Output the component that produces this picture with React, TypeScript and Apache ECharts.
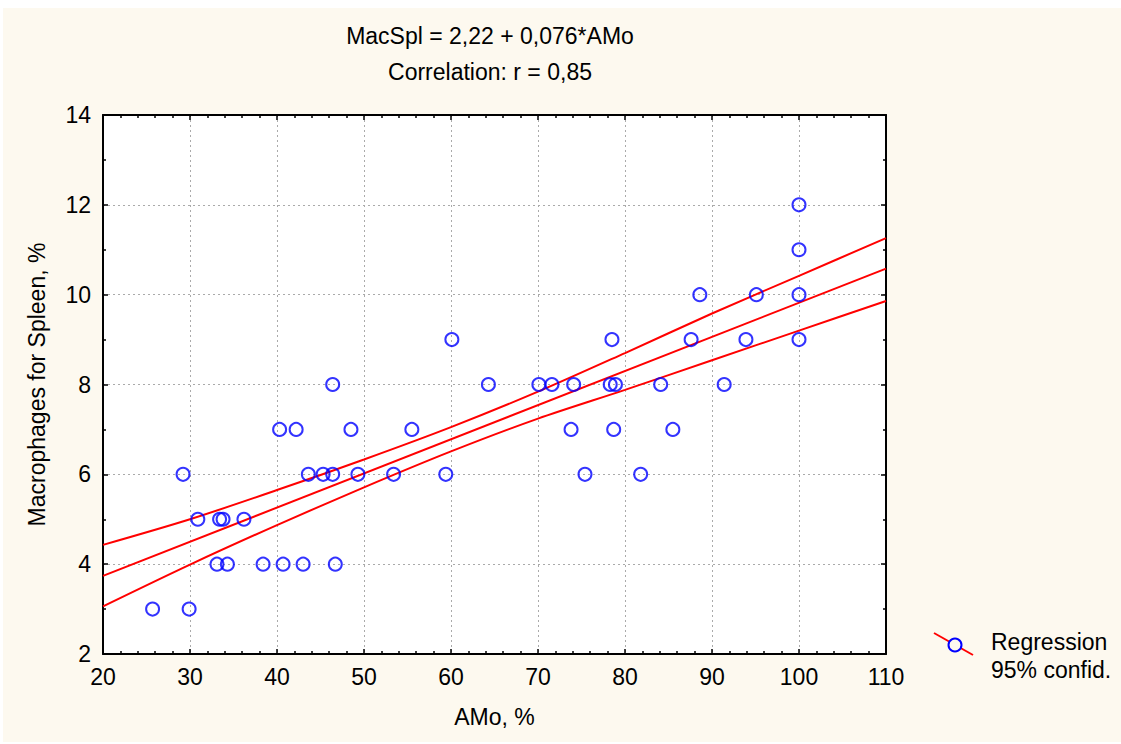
import React, { useEffect, useRef } from "react";
import * as echarts from "echarts";

// AMo (%) and MacSpl (%) observations
const amo = [
  25.7, 29.9,
  33.1, 34.3, 38.4, 40.7, 43.0, 46.7,
  30.9, 33.4, 33.8, 36.2,
  29.2, 43.6, 45.3, 46.4, 49.3, 53.4, 59.4, 75.4, 81.8,
  40.3, 42.2, 48.5, 55.5, 73.8, 78.7, 85.5,
  46.4, 64.3, 70.1, 71.6, 74.1, 78.3, 78.9, 84.1, 91.4,
  60.1, 78.5, 87.6, 93.9, 100,
  88.6, 95.1, 100,
  100,
  100,
];
const macSpl = [
  3, 3,
  4, 4, 4, 4, 4, 4,
  5, 5, 5, 5,
  6, 6, 6, 6, 6, 6, 6, 6, 6,
  7, 7, 7, 7, 7, 7, 7,
  8, 8, 8, 8, 8, 8, 8, 8, 8,
  9, 9, 9, 9, 9,
  10, 10, 10,
  11,
  12,
];

// Regression line MacSpl = 2,22 + 0,076*AMo (end points)
const fitX = [20, 110];
const fitY = [3.74, 10.58];

// 95% confidence band
const bandX = [20, 30, 40, 50, 60, 70, 80, 90, 100, 110];
const bandUpper = [4.43, 5.0, 5.65, 6.33, 7.05, 7.84, 8.7, 9.58, 10.42, 11.26];
const bandLower = [3.06, 3.99, 4.87, 5.71, 6.51, 7.24, 7.88, 8.54, 9.2, 9.86];

const xTicks = { min: 20, max: 110, step: 10 };
const yTicks = { min: 2, max: 14, step: 2 };

const titleLines = ["MacSpl = 2,22 + 0,076*AMo", "Correlation: r = 0,85"];
const legendLabels = ["Regression", "95% confid."];

const FONT = "'Liberation Sans', Arial, Helvetica, sans-serif";
const FS = 23;
const CREAM = "#fdf9ef";

export default function App() {
  const ref = useRef<HTMLDivElement>(null);

  useEffect(() => {
    if (!ref.current) return;
    const chart = echarts.init(ref.current, null, { renderer: "svg" });

    const pts = amo.map((x, i) => [x, macSpl[i]]);
    const fit = fitX.map((x, i) => [x, fitY[i]]);
    const up = bandX.map((x, i) => [x, bandUpper[i]]);
    const lo = bandX.map((x, i) => [x, bandLower[i]]);

    const gridLeft = 103;
    const gridTop = 115;
    const gridW = 783;
    const gridH = 539;

    const baseX = {
      type: "value",
      min: xTicks.min,
      max: xTicks.max,
      interval: xTicks.step,
      axisLine: { show: true, onZero: false, lineStyle: { color: "#000", width: 2 } },
      axisTick: { show: true, inside: true, length: 5, lineStyle: { color: "#000", width: 1.5 } },
      minorTick: { show: true, splitNumber: 5, length: 3, lineStyle: { color: "#000", width: 1.5 } },
    };
    const baseY = {
      type: "value",
      min: yTicks.min,
      max: yTicks.max,
      interval: yTicks.step,
      axisLine: { show: true, onZero: false, lineStyle: { color: "#000", width: 2 } },
      axisTick: { show: true, inside: true, length: 5, lineStyle: { color: "#000", width: 1.5 } },
      minorTick: { show: true, splitNumber: 2, length: 3, lineStyle: { color: "#000", width: 1.5 } },
    };

    const option: any = {
      animation: false,
      backgroundColor: "#ffffff",
      textStyle: { fontFamily: FONT },
      grid: { left: gridLeft, top: gridTop, width: gridW, height: gridH, show: true, backgroundColor: "#ffffff", borderWidth: 0 },
      xAxis: [
        {
          ...baseX,
          position: "bottom",
          name: "AMo, %",
          nameLocation: "middle",
          nameGap: 51,
          nameTextStyle: { fontSize: FS, color: "#000", fontFamily: FONT },
          axisLabel: { show: true, margin: 11, fontSize: FS, color: "#000", fontFamily: FONT },
          splitLine: { show: true, lineStyle: { color: "#aaaaaa", type: [2, 3], width: 1 } },
        },
        {
          ...baseX,
          position: "top",
          axisLabel: { show: false },
          splitLine: { show: false },
        },
      ],
      yAxis: [
        {
          ...baseY,
          position: "left",
          name: "Macrophages for Spleen, %",
          nameLocation: "middle",
          nameGap: 55,
          nameTextStyle: { fontSize: FS, color: "#000", fontFamily: FONT },
          axisLabel: { show: true, margin: 12, fontSize: FS, color: "#000", fontFamily: FONT },
          splitLine: { show: true, lineStyle: { color: "#aaaaaa", type: [2, 3], width: 1 } },
        },
        {
          ...baseY,
          position: "right",
          axisLabel: { show: false },
          splitLine: { show: false },
        },
      ],
      series: [
        {
          type: "line",
          data: up,
          smooth: 0.3,
          showSymbol: false,
          lineStyle: { color: "#ff0000", width: 2 },
          z: 2,
          silent: true,
        },
        {
          type: "line",
          data: fit,
          showSymbol: false,
          lineStyle: { color: "#ff0000", width: 2 },
          z: 2,
          silent: true,
        },
        {
          type: "line",
          data: lo,
          smooth: 0.3,
          showSymbol: false,
          lineStyle: { color: "#ff0000", width: 2 },
          z: 2,
          silent: true,
        },
        {
          type: "scatter",
          data: pts,
          symbol: "circle",
          symbolSize: 13,
          itemStyle: { color: "rgba(255,255,255,0)", borderColor: "#0000ff", borderWidth: 2 },
          z: 3,
        },
      ],
      graphic: [
        {
          type: "rect",
          shape: { x: 3, y: 8, width: 1118, height: 734 },
          style: { fill: CREAM },
          z: -10,
          silent: true,
        },
        {
          type: "rect",
          shape: { x: gridLeft, y: gridTop, width: gridW, height: gridH },
          style: { fill: "#ffffff" },
          z: -9,
          silent: true,
        },
        {
          type: "text",
          x: 490,
          y: 36,
          style: { text: titleLines[0], fontSize: FS, fontFamily: FONT, fill: "#000", align: "center", verticalAlign: "middle" },
        },
        {
          type: "text",
          x: 490,
          y: 72,
          style: { text: titleLines[1], fontSize: FS, fontFamily: FONT, fill: "#000", align: "center", verticalAlign: "middle" },
        },
        {
          type: "line",
          shape: { x1: 934, y1: 633, x2: 973, y2: 655 },
          style: { stroke: "#ff0000", lineWidth: 2 },
        },
        {
          type: "circle",
          shape: { cx: 955, cy: 645, r: 6.5 },
          style: { fill: CREAM, stroke: "#0000ff", lineWidth: 2 },
        },
        {
          type: "text",
          x: 991,
          y: 642,
          style: { text: legendLabels[0], fontSize: FS, fontFamily: FONT, fill: "#000", align: "left", verticalAlign: "middle" },
        },
        {
          type: "text",
          x: 991,
          y: 670,
          style: { text: legendLabels[1], fontSize: FS, fontFamily: FONT, fill: "#000", align: "left", verticalAlign: "middle" },
        },
      ],
    };

    chart.setOption(option);
    return () => chart.dispose();
  }, []);

  return (
    <div
      ref={ref}
      style={{ position: "fixed", left: 0, top: 0, width: 1121, height: 744 }}
    />
  );
}
